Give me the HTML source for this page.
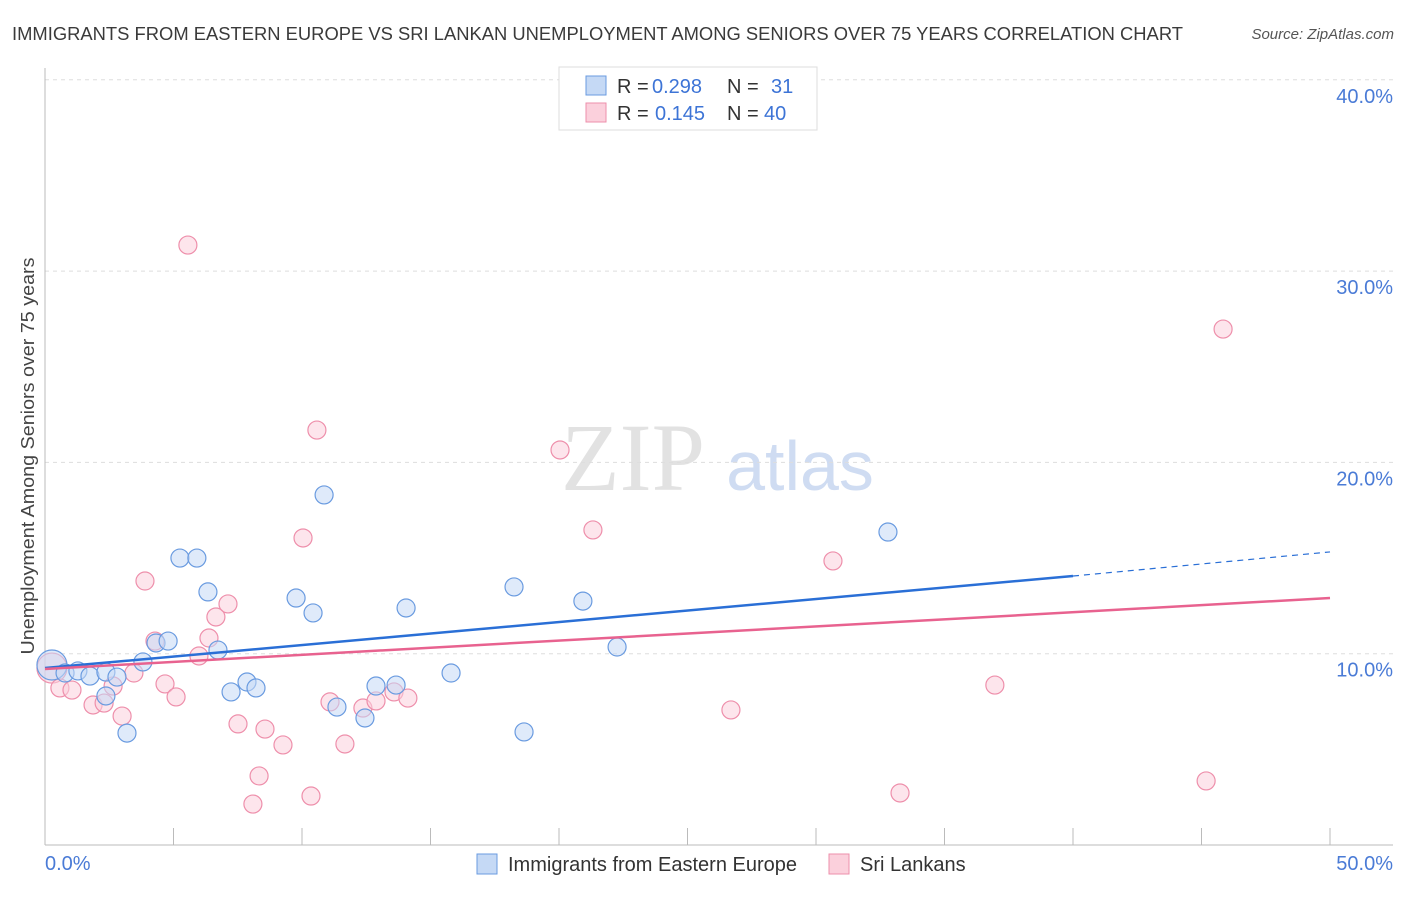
<!DOCTYPE html>
<html><head><meta charset="utf-8"><style>
body{margin:0;background:#fff;font-family:"Liberation Sans",sans-serif;}
svg text{font-family:"Liberation Sans",sans-serif;}
</style></head><body>
<svg id="chart" width="1406" height="892">
<text x="12" y="40" font-size="18" textLength="1171" lengthAdjust="spacingAndGlyphs" fill="#3a3a3a">IMMIGRANTS FROM EASTERN EUROPE VS SRI LANKAN UNEMPLOYMENT AMONG SENIORS OVER 75 YEARS CORRELATION CHART</text>
<text x="1394" y="39" font-size="15" fill="#555" font-style="italic" text-anchor="end">Source: ZipAtlas.com</text>
<text transform="translate(34,456) rotate(-90)" font-size="18" textLength="397" lengthAdjust="spacingAndGlyphs" fill="#444" text-anchor="middle">Unemployment Among Seniors over 75 years</text>
<g><text x="633" y="490" font-size="96" fill="#e2e2e2" font-family="Liberation Serif" text-anchor="middle" style="font-family:'Liberation Serif',serif">ZIP</text><text x="800" y="490" font-size="70" fill="#cfdcf2" text-anchor="middle">atlas</text></g>
<g id="grid"></g><g id="axes"></g><g id="marks"></g>
<g font-size="20">
<rect x="559" y="67" width="258" height="63" fill="#fff" stroke="#ddd"/>
<rect x="586" y="76" width="20" height="19" fill="#c5d9f5" stroke="#6a9be0"/>
<rect x="586" y="103" width="20" height="19" fill="#fbd0dc" stroke="#ee8fab"/>
<text x="617" y="93" fill="#333">R =</text><text x="652" y="93" fill="#3d74d6">0.298</text><text x="727" y="93" fill="#333">N =</text><text x="771" y="93" fill="#3d74d6">31</text>
<text x="617" y="120" fill="#333">R =</text><text x="655" y="120" fill="#3d74d6">0.145</text><text x="727" y="120" fill="#333">N =</text><text x="764" y="120" fill="#3d74d6">40</text>
</g>
<g>
<rect x="477" y="854" width="20" height="20" fill="#c5d9f5" stroke="#6a9be0"/>
<text x="508" y="871" font-size="20" fill="#333">Immigrants from Eastern Europe</text>
<rect x="829" y="854" width="20" height="20" fill="#fbd0dc" stroke="#ee8fab"/>
<text x="860" y="871" font-size="20" fill="#333">Sri Lankans</text>
</g>
</svg>
<script>
const yTicks=[10,20,30,40];
const yTickLabels=["10.0%","20.0%","30.0%","40.0%"];
const xTickValues=[0,5,10,15,20,25,30,35,40,45,50];
const blueX=[0.27,0.78,1.28,1.75,2.37,2.80,2.37,3.19,3.81,4.32,4.79,5.25,5.91,6.34,6.73,7.24,7.86,8.21,9.77,10.43,10.86,11.36,12.45,12.88,13.66,14.05,15.80,18.25,18.64,20.93,22.26,32.80];
const blueY=[9.41,8.99,9.10,8.83,9.04,8.78,7.79,5.85,9.57,10.56,10.66,15.0,15.0,13.23,10.19,8.0,8.52,8.21,12.91,12.13,18.30,7.21,6.64,8.31,8.36,12.39,8.99,13.49,5.91,12.75,10.35,16.36];
const pinkX=[0.27,0.58,1.05,1.87,2.30,2.65,3.00,3.46,3.89,4.28,4.67,5.10,5.56,5.99,6.38,6.65,7.12,7.51,8.09,8.33,8.56,9.26,10.04,10.35,10.58,11.09,11.67,12.37,12.88,13.58,14.12,20.04,21.32,26.69,30.66,33.27,36.96,45.18,45.84];
const pinkY=[9.25,8.21,8.10,7.32,7.42,8.31,6.74,8.99,13.80,10.66,8.42,7.74,31.36,9.88,10.82,11.92,12.60,6.33,2.14,3.61,6.06,5.23,16.05,2.56,21.69,7.48,5.28,7.16,7.53,8.0,7.68,20.65,16.47,7.06,14.85,2.72,8.36,3.35,26.97];
const blueLine=[9.25,14.06,15.32]; // at x=0, 40 (end of solid), 50
const pinkLine=[9.2,12.91]; // at x=0, 50
const NS="http://www.w3.org/2000/svg";
const sx=v=>45+v*25.7, sy=v=>845-v*19.13;
function mk(tag,attrs,parent){const e=document.createElementNS(NS,tag);for(const k in attrs)e.setAttribute(k,attrs[k]);document.getElementById(parent).appendChild(e);return e;}
yTicks.forEach((t,i)=>{
 const g=mk('line',{x1:45,x2:1393,y1:sy(t),y2:sy(t),stroke:'#ddd','stroke-dasharray':'4,4'},'grid');
 
 
 const tx=mk('text',{x:1393,y:sy(t)+23,'font-size':20,fill:'#4a7bd6','text-anchor':'end'},'axes');
 tx.textContent=yTickLabels[i];
 
 
});
let a=mk('line',{x1:45,x2:45,y1:68,y2:845,stroke:'#bbb'},'axes');


a=mk('line',{x1:45,x2:1393,y1:845,y2:845,stroke:'#bbb'},'axes');


xTickValues.forEach(v=>{
 const t=mk('line',{x1:sx(v),x2:sx(v),y1:828,y2:845,stroke:'#bbb'},'axes');
 
 
});
let l=mk('text',{x:45,y:870,'font-size':20,fill:'#4a7bd6'},'axes');l.textContent='0.0%';


l=mk('text',{x:1393,y:870,'font-size':20,fill:'#4a7bd6','text-anchor':'end'},'axes');l.textContent='50.0%';


function dots(xs,ys,fill,stroke,name){xs.forEach((x,i)=>{
 const c=mk('circle',{cx:sx(x),cy:sy(ys[i]),r:i===0?15:9,fill:fill,'fill-opacity':0.55,stroke:stroke,'stroke-width':1.2},'marks');
 
 
});}
dots(pinkX,pinkY,'#fbd0dc','#ee8fab','sri-lankan-point');
dots(blueX,blueY,'#c5d9f5','#6a9be0','eastern-europe-point');
let t=mk('line',{x1:sx(0),y1:sy(blueLine[0]),x2:sx(40),y2:sy(blueLine[1]),stroke:'#2a6fd6','stroke-width':2.5},'marks');


t=mk('line',{x1:sx(40),y1:sy(blueLine[1]),x2:sx(50),y2:sy(blueLine[2]),stroke:'#2a6fd6','stroke-width':1.2,'stroke-dasharray':'6,5'},'marks');


t=mk('line',{x1:sx(0),y1:sy(pinkLine[0]),x2:sx(50),y2:sy(pinkLine[1]),stroke:'#e8628f','stroke-width':2.5},'marks');


</script>
</body></html>
